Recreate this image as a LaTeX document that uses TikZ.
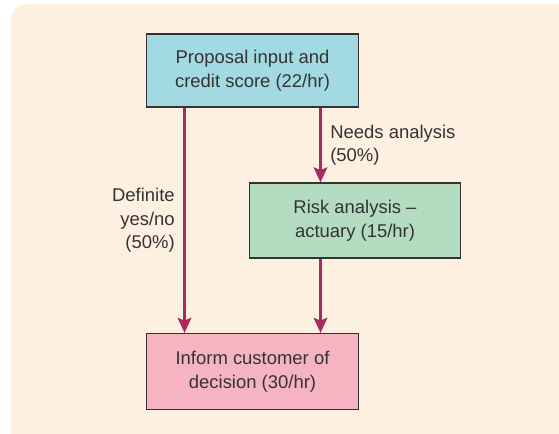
\documentclass[tikz,border=0pt]{standalone}
\usepackage{fontspec}
\setmainfont{Liberation Sans}
\usetikzlibrary{arrows.meta}

\definecolor{paper}{HTML}{FDF0E1}
\definecolor{inputblue}{HTML}{A3D9E3}
\definecolor{riskgreen}{HTML}{B3DCC1}
\definecolor{informpink}{HTML}{F6B3C1}
\definecolor{flowred}{HTML}{A62A5E}
\definecolor{ink}{HTML}{333333}

\tikzset{
  stage/.style={draw=ink, line width=0.6pt, text=ink, align=center,
    minimum width=4.23cm, minimum height=1.5cm, inner sep=0pt,
    font=\fontsize{10.5pt}{13.4pt}\selectfont},
  flow/.style={-{Stealth[length=0.3cm, width=0.27cm, inset=0.05cm]}, line width=1.5pt, flowred},
  share/.style={text=ink, inner sep=0pt, font=\fontsize{10.5pt}{13.4pt}\selectfont}
}

\begin{document}
\begin{tikzpicture}
  \useasboundingbox (0,0) rectangle (11.18,-8.66);
  \clip (0,0) rectangle (11.18,-8.66);
  \fill[paper, rounded corners=0.3cm] (0.22,-0.08) rectangle (11.6,-9.0);

  % the three stages
  \node[stage, fill=inputblue, minimum height=1.46cm] (prop) at (5.05,-1.41) {Proposal input and\\credit score (22/hr)};
  \node[stage, fill=riskgreen] (risk) at (7.10,-4.41) {Risk analysis --\\actuary (15/hr)};
  \node[stage, fill=informpink, minimum height=1.52cm] (inform) at (5.05,-7.43) {Inform customer of\\decision (30/hr)};

  \coordinate (yesline) at (3.69,0);
  \coordinate (analline) at (6.41,0);

  % routes
  \draw[flow] (prop.south -| yesline) -- (inform.north -| yesline)
    node[midway, left=0.17cm, share, align=right] {Definite\\yes/no\\(50\%)};
  \draw[flow] (prop.south -| analline) -- (risk.north -| analline)
    node[midway, right=0.17cm, share, align=left] {Needs analysis\\(50\%)};
  \draw[flow] (risk.south -| analline) -- (inform.north -| analline);
\end{tikzpicture}
\end{document}
